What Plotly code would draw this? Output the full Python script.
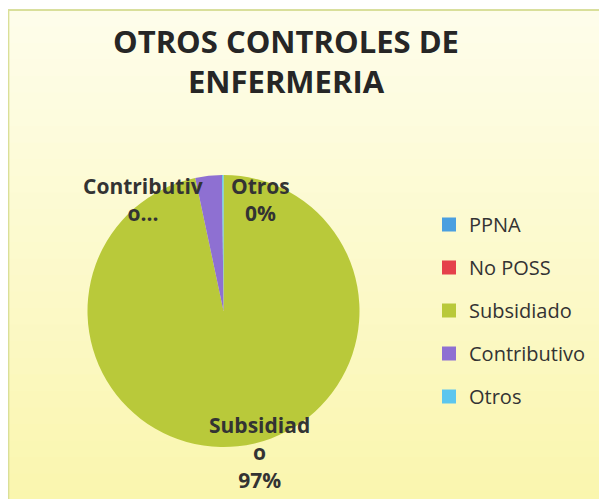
import plotly.graph_objects as go

# data
categories = ['PPNA', 'No POSS', 'Subsidiado', 'Contributivo', 'Otros']
values = [0, 0, 580, 19, 1]
colors = ['#4A9FE0', '#E5414B', '#B9C93A', '#8E70D2', '#5CC6EE']
# how the slice labels wrap in the original chart
label_lines = {
    'Subsidiado': ['Subsidiad', 'o'],
    'Contributivo': ['Contributiv', 'o...'],
    'Otros': ['Otros'],
}
show_pct = {'Subsidiado': True, 'Contributivo': False, 'Otros': True}

W, H = 607, 499
OX, OY = 8, 8   # page margin around the plot div
FONT = 'Open Sans'


def px(x):
    return (x - OX) / W


def py(y):
    return 1 - (y - OY) / H


total = sum(values)

fig = go.Figure()
fig.add_trace(go.Pie(
    labels=categories,
    values=values,
    sort=False,
    direction='clockwise',
    rotation=0,
    textinfo='none',
    hoverinfo='label+percent',
    showlegend=False,
    marker=dict(colors=colors, line=dict(width=0)),
    domain=dict(x=[px(87.5), px(359.5)], y=[py(447), py(175)]),
))

# legend entries (pie legend spacing can't be set, so use empty scatter traces)
for cat, col in zip(categories, colors):
    fig.add_trace(go.Scatter(
        x=[None], y=[None], mode='markers', name=cat, legendgroup=cat,
        marker=dict(symbol='square', size=14, color=col),
    ))

# gradient background of the chart area (Excel style)
shapes = []
n = 30
top, bot = (254, 253, 234), (250, 246, 174)
y0px, y1px = 10, H + OY
for i in range(n):
    t = i / (n - 1)
    c = tuple(round(top[k] + (bot[k] - top[k]) * t) for k in range(3))
    ya = y0px + (y1px - y0px) * i / n
    yb = y0px + (y1px - y0px) * (i + 1) / n + 1
    shapes.append(dict(type='rect', xref='paper', yref='paper', layer='below',
                       x0=0, x1=1.0, y0=py(yb), y1=py(ya),
                       fillcolor='rgb(%d,%d,%d)' % c, line=dict(width=0)))
shapes.append(dict(type='line', xref='paper', yref='paper', layer='below',
                   x0=0, x1=1.0, y0=py(10), y1=py(10),
                   line=dict(color='#CDD57E', width=1.5)))
shapes.append(dict(type='line', xref='paper', yref='paper', layer='below',
                   x0=0.001, x1=0.001, y0=0, y1=py(10),
                   line=dict(color='#DADF98', width=1.5)))

# slice labels
label_pos = {'Contributivo': (143, 199), 'Otros': (260, 199), 'Subsidiado': (259, 452)}
annotations = []
for cat, v in zip(categories, values):
    if cat not in label_pos:
        continue
    lines = list(label_lines[cat])
    if show_pct[cat]:
        lines.append('%d%%' % round(100 * v / total))
    x, y = label_pos[cat]
    annotations.append(dict(
        text='<br>'.join(lines), x=px(x), y=py(y), xref='paper', yref='paper',
        showarrow=False, xanchor='center', yanchor='middle', align='center',
        font=dict(family=FONT, size=21, color='#333333', weight='bold'),
    ))

fig.update_layout(
    width=W, height=H,
    margin=dict(l=0, r=0, t=0, b=0),
    paper_bgcolor='white',
    plot_bgcolor='rgba(0,0,0,0)',
    xaxis=dict(visible=False),
    yaxis=dict(visible=False),
    title=dict(text='OTROS CONTROLES DE<br>ENFERMERIA', x=px(286), xanchor='center',
               y=py(53), yanchor='top',
               font=dict(family=FONT, size=31, color='#262626', weight='bold')),
    legend=dict(x=px(429), xanchor='left', y=py(205), yanchor='top',
                tracegroupgap=14, bgcolor='rgba(0,0,0,0)',
                font=dict(family=FONT, size=20, color='#333333')),
    shapes=shapes,
    annotations=annotations,
)

fig.write_html('out.html')
